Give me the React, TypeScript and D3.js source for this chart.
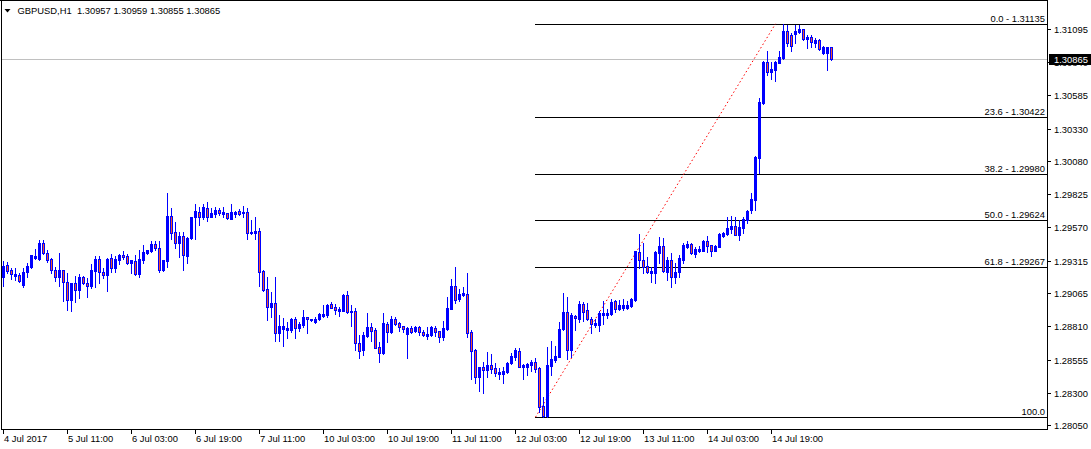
import React from "react";
import * as d3 from "d3";

const symbolTitle = "GBPUSD,H1  1.30957 1.30959 1.30855 1.30865";

const opens = [1.29189,1.29279,1.29243,1.29197,1.29202,1.29129,1.29230,1.29269,1.29336,1.29328,1.29453,1.29372,1.29328,1.29243,1.29192,1.29243,1.29152,1.29013,1.29142,1.29090,1.29192,1.29142,1.29121,1.29238,1.29328,1.29225,1.29207,1.29333,1.29261,1.29320,1.29359,1.29351,1.29295,1.29315,1.29212,1.29320,1.29372,1.29392,1.29443,1.29410,1.29243,1.29315,1.29658,1.29533,1.29449,1.29505,1.29353,1.29487,1.29648,1.29686,1.29648,1.29717,1.29653,1.29673,1.29704,1.29673,1.29683,1.29635,1.29676,1.29694,1.29681,1.29689,1.29526,1.29530,1.29543,1.29238,1.29098,1.28962,1.28988,1.28761,1.28792,1.28782,1.28782,1.28865,1.28800,1.28818,1.28882,1.28865,1.28846,1.28869,1.28890,1.28898,1.28980,1.28959,1.28931,1.28931,1.29052,1.28921,1.28928,1.28681,1.28629,1.28736,1.28808,1.28782,1.28655,1.28604,1.28828,1.28767,1.28865,1.28834,1.28813,1.28751,1.28795,1.28777,1.28803,1.28764,1.28738,1.28741,1.28797,1.28774,1.28731,1.28792,1.28946,1.29121,1.29018,1.29054,1.29059,1.28764,1.28629,1.28424,1.28496,1.28475,1.28514,1.28488,1.28447,1.28447,1.28462,1.28527,1.28578,1.28621,1.28496,1.28496,1.28514,1.28537,1.28488,1.28198,1.28118,1.28506,1.28552,1.28578,1.28788,1.28923,1.28629,1.28890,1.28865,1.28982,1.28936,1.28865,1.28821,1.28821,1.28898,1.28898,1.28905,1.29005,1.28944,1.28954,1.28954,1.28967,1.29013,1.29384,1.29320,1.29274,1.29222,1.29222,1.29376,1.29428,1.29230,1.29320,1.29192,1.29230,1.29320,1.29423,1.29443,1.29366,1.29392,1.29392,1.29469,1.29433,1.29392,1.29423,1.29505,1.29520,1.29561,1.29582,1.29513,1.29564,1.29628,1.29704,1.29781,1.30102,1.30524,1.30844,1.30767,1.30780,1.30836,1.30870,1.31082,1.31049,1.31057,1.31074,1.31093,1.31016,1.31031,1.30990,1.31011,1.30908,1.30908,1.30957];

const highs = [1.29312,1.29302,1.29259,1.29256,1.29218,1.29256,1.29295,1.29362,1.29405,1.29474,1.29474,1.29397,1.29333,1.29264,1.29372,1.29243,1.29218,1.29142,1.29197,1.29210,1.29197,1.29179,1.29289,1.29351,1.29351,1.29256,1.29333,1.29366,1.29351,1.29366,1.29389,1.29366,1.29320,1.29359,1.29397,1.29436,1.29397,1.29469,1.29466,1.29466,1.29324,1.29837,1.29717,1.29615,1.29533,1.29538,1.29495,1.29653,1.29750,1.29730,1.29750,1.29763,1.29717,1.29725,1.29717,1.29725,1.29683,1.29750,1.29699,1.29710,1.29735,1.29717,1.29628,1.29648,1.29569,1.29243,1.29192,1.29077,1.29192,1.28898,1.28872,1.28846,1.28872,1.28885,1.28846,1.28936,1.28885,1.28869,1.28885,1.28915,1.28972,1.28982,1.29000,1.28982,1.28957,1.29057,1.29082,1.28975,1.28949,1.28744,1.28769,1.28911,1.28834,1.28795,1.28693,1.28911,1.28846,1.28890,1.28880,1.28846,1.28813,1.28803,1.28813,1.28813,1.28813,1.28782,1.28808,1.28813,1.28815,1.28774,1.28851,1.29039,1.29177,1.29264,1.29095,1.29111,1.29220,1.28782,1.28634,1.28501,1.28539,1.28616,1.28598,1.28531,1.28488,1.28496,1.28539,1.28604,1.28642,1.28642,1.28521,1.28531,1.28552,1.28570,1.28501,1.28270,1.28655,1.28701,1.28660,1.28846,1.29069,1.29039,1.28911,1.28898,1.29008,1.29000,1.28992,1.28885,1.28865,1.28931,1.29008,1.28941,1.29018,1.29013,1.29013,1.29018,1.29008,1.29026,1.29393,1.29520,1.29449,1.29346,1.29269,1.29386,1.29500,1.29487,1.29346,1.29372,1.29295,1.29359,1.29453,1.29469,1.29449,1.29423,1.29428,1.29472,1.29505,1.29436,1.29433,1.29524,1.29538,1.29653,1.29658,1.29648,1.29628,1.29648,1.29703,1.29837,1.30118,1.30563,1.30848,1.30928,1.30844,1.30848,1.30928,1.31135,1.31126,1.31062,1.31126,1.31126,1.31095,1.31049,1.31049,1.31024,1.31015,1.30965,1.30957,1.30959];

const lows = [1.29121,1.29218,1.29172,1.29167,1.29154,1.29116,1.29192,1.29256,1.29330,1.29320,1.29366,1.29307,1.29222,1.29162,1.29121,1.29008,1.28936,1.28931,1.29000,1.29026,1.29136,1.29034,1.29103,1.29111,1.29142,1.29184,1.29085,1.29230,1.29230,1.29289,1.29330,1.29287,1.29222,1.29205,1.29187,1.29295,1.29366,1.29384,1.29397,1.29228,1.29235,1.29264,1.29480,1.29415,1.29346,1.29243,1.29295,1.29480,1.29480,1.29590,1.29633,1.29623,1.29648,1.29653,1.29666,1.29653,1.29633,1.29635,1.29648,1.29663,1.29653,1.29482,1.29518,1.29480,1.29121,1.29085,1.28859,1.28885,1.28701,1.28701,1.28662,1.28723,1.28769,1.28723,1.28777,1.28808,1.28761,1.28855,1.28838,1.28859,1.28885,1.28885,1.28949,1.28905,1.28890,1.28928,1.28915,1.28813,1.28629,1.28570,1.28591,1.28728,1.28701,1.28642,1.28537,1.28598,1.28693,1.28761,1.28821,1.28777,1.28769,1.28570,1.28757,1.28769,1.28744,1.28736,1.28713,1.28736,1.28736,1.28693,1.28706,1.28786,1.28941,1.28992,1.29008,1.29046,1.28731,1.28406,1.28373,1.28313,1.28300,1.28419,1.28450,1.28429,1.28406,1.28377,1.28454,1.28519,1.28552,1.28496,1.28406,1.28437,1.28470,1.28462,1.28155,1.28113,1.28116,1.28437,1.28539,1.28573,1.28782,1.28557,1.28578,1.28782,1.28846,1.28854,1.28859,1.28761,1.28808,1.28777,1.28828,1.28872,1.28898,1.28923,1.28936,1.28936,1.28944,1.28957,1.29005,1.29256,1.29222,1.29218,1.29154,1.29142,1.29295,1.29230,1.29167,1.29116,1.29142,1.29192,1.29299,1.29410,1.29366,1.29341,1.29384,1.29389,1.29384,1.29351,1.29389,1.29420,1.29500,1.29516,1.29526,1.29509,1.29474,1.29530,1.29607,1.29679,1.29704,1.29986,1.30520,1.30742,1.30709,1.30696,1.30832,1.30862,1.30965,1.30928,1.30990,1.31062,1.31011,1.30947,1.30955,1.30955,1.30934,1.30903,1.30780,1.30855];

const closes = [1.29274,1.29238,1.29210,1.29212,1.29157,1.29228,1.29274,1.29359,1.29351,1.29453,1.29372,1.29320,1.29243,1.29192,1.29243,1.29154,1.29013,1.29142,1.29090,1.29192,1.29142,1.29121,1.29243,1.29328,1.29225,1.29207,1.29328,1.29261,1.29328,1.29359,1.29343,1.29299,1.29320,1.29212,1.29328,1.29384,1.29397,1.29443,1.29410,1.29243,1.29320,1.29658,1.29526,1.29449,1.29505,1.29359,1.29492,1.29648,1.29696,1.29648,1.29725,1.29653,1.29683,1.29704,1.29679,1.29686,1.29640,1.29686,1.29689,1.29673,1.29689,1.29530,1.29538,1.29543,1.29230,1.29090,1.28962,1.28988,1.28757,1.28813,1.28813,1.28797,1.28865,1.28800,1.28828,1.28885,1.28865,1.28862,1.28865,1.28905,1.28905,1.28975,1.28954,1.28938,1.28946,1.29052,1.28921,1.28928,1.28681,1.28624,1.28744,1.28808,1.28777,1.28647,1.28608,1.28834,1.28769,1.28869,1.28828,1.28808,1.28788,1.28795,1.28769,1.28803,1.28769,1.28746,1.28751,1.28803,1.28769,1.28731,1.28797,1.28951,1.29121,1.29013,1.29059,1.29069,1.28761,1.28624,1.28424,1.28496,1.28475,1.28514,1.28483,1.28454,1.28462,1.28470,1.28531,1.28583,1.28629,1.28501,1.28514,1.28521,1.28539,1.28485,1.28193,1.28118,1.28514,1.28557,1.28583,1.28790,1.28923,1.28629,1.28898,1.28872,1.28982,1.28923,1.28865,1.28828,1.28838,1.28915,1.28915,1.28915,1.29000,1.28944,1.28975,1.28975,1.28975,1.29018,1.29389,1.29323,1.29269,1.29230,1.29238,1.29382,1.29428,1.29238,1.29320,1.29192,1.29230,1.29333,1.29436,1.29443,1.29376,1.29407,1.29407,1.29469,1.29428,1.29392,1.29431,1.29520,1.29530,1.29569,1.29582,1.29513,1.29577,1.29633,1.29699,1.29787,1.30114,1.30537,1.30844,1.30767,1.30788,1.30844,1.30878,1.31082,1.30990,1.30965,1.31082,1.31097,1.31016,1.31036,1.30993,1.31011,1.30939,1.30955,1.30955,1.30865];

const timeLabels = ["4 Jul 2017","5 Jul 11:00","6 Jul 03:00","6 Jul 19:00","7 Jul 11:00","10 Jul 03:00","10 Jul 19:00","11 Jul 11:00","12 Jul 03:00","12 Jul 19:00","13 Jul 11:00","14 Jul 03:00","14 Jul 19:00"];
const barsPerTimeLabel = 16;

const priceTicks = [1.31095,1.30840,1.30585,1.30330,1.30080,1.29825,1.29570,1.29315,1.29065,1.28810,1.28555,1.28300,1.28050];

const fibLevels = [0.0, 23.6, 38.2, 50.0, 61.8, 100.0];
const fibPrices = [1.31135, 1.30422, 1.29980, 1.29624, 1.29267, 1.28113];
const fibAnchorLowBar = 133;
const fibAnchorHighBar = 193;

const currentPrice = 1.30865;

const W = 1091;
const H = 449;
const FONT = "'Liberation Sans', Arial, sans-serif";
const BLUE = "#0000FF";
const BEAR = "#F2542D";

export default function App() {
  const plotLeft = 1;
  const plotRight = 1047;
  const plotTop = 0;
  const plotBottom = 429;

  const n = opens.length;
  const x = d3.scaleLinear().domain([0, n - 1]).range([3.5, 3.5 + 4 * (n - 1)]);
  const y = d3.scaleLinear().domain([1.28014, 1.31318]).range([430, 0]);

  const candles = d3.range(n).map((i) => {
    const o = opens[i], c = closes[i], h = highs[i], l = lows[i];
    const left = Math.round(x(i) - 1.5);
    const yTop = Math.round(y(Math.max(o, c)));
    const yBot = Math.round(y(Math.min(o, c)));
    const yH = Math.round(y(h));
    const yL = Math.round(y(l));
    const bear = c < o;
    return (
      <g key={i}>
        <rect x={left + 1} y={yH} width={1} height={Math.max(1, yL - yH + 1)} fill={BLUE} />
        <rect x={left} y={yTop} width={3} height={Math.max(1, yBot - yTop + 1)} fill={BLUE} />
        {bear && yBot - yTop - 1 > 0 ? (
          <rect x={left + 1} y={yTop + 1} width={1} height={yBot - yTop - 1} fill={BEAR} />
        ) : null}
      </g>
    );
  });

  const fibStartX = Math.round(x(fibAnchorLowBar));
  const lowY = y(fibPrices[fibPrices.length - 1]);
  const highY = y(fibPrices[0]);

  const curY = Math.round(y(currentPrice)) + 0.5;

  return (
    <svg width={W} height={H} style={{ position: "absolute", left: 0, top: 0, background: "#fff" }} fontFamily={FONT}>
      <rect x={0} y={0} width={W} height={H} fill="#fff" />
      {/* current price line */}
      <line x1={plotLeft} x2={plotRight} y1={curY} y2={curY} stroke="#C0C0C0" strokeWidth={1} />

      {/* fibonacci levels */}
      {fibLevels.map((lv, k) => {
        const yy = Math.round(y(fibPrices[k])) + 0.5;
        const label = lv === 100 ? lv.toFixed(1) : `${lv.toFixed(1)} - ${fibPrices[k].toFixed(5)}`;
        return (
          <g key={"fib" + k}>
            <line x1={fibStartX} x2={plotRight} y1={yy} y2={yy} stroke="#000" strokeWidth={1} />
            <text x={plotRight - 2} y={yy - 3} textAnchor="end" fontSize={9.4} fill="#000">{label}</text>
          </g>
        );
      })}

      {/* fib trend line */}
      <line x1={x(fibAnchorLowBar)} y1={lowY} x2={x(fibAnchorHighBar)} y2={highY} stroke="#FF0000" strokeWidth={1} strokeDasharray="1.5 2.5" />

      {candles}

      {/* frame */}
      <line x1={0} x2={plotRight + 1} y1={plotTop + 0.5} y2={plotTop + 0.5} stroke="#000" />
      <line x1={plotLeft + 0.5} x2={plotLeft + 0.5} y1={0} y2={plotBottom + 1} stroke="#000" />
      <line x1={plotRight + 0.5} x2={plotRight + 0.5} y1={0} y2={plotBottom + 1} stroke="#000" />
      <line x1={plotLeft} x2={plotRight + 1} y1={plotBottom + 0.5} y2={plotBottom + 0.5} stroke="#000" />

      {/* price axis */}
      {priceTicks.map((p, k) => {
        const yy = Math.round(y(p)) + 0.5;
        return (
          <g key={"pt" + k}>
            <line x1={plotRight + 1} x2={plotRight + 4} y1={yy} y2={yy} stroke="#000" />
            <text x={1054} y={yy + 3.5} fontSize={9.4} fill="#000">{p.toFixed(5)}</text>
          </g>
        );
      })}

      {/* current price label */}
      <rect x={1049} y={curY - 5.5} width={42} height={11} fill="#000" />
      <text x={1054} y={curY + 3.5} fontSize={9.4} fill="#fff">{currentPrice.toFixed(5)}</text>

      {/* time axis */}
      {timeLabels.map((t, k) => {
        const xx = Math.round(x(k * barsPerTimeLabel)) - 0.5;
        return (
          <g key={"tt" + k}>
            <line x1={xx} x2={xx} y1={plotBottom + 1} y2={plotBottom + 5} stroke="#000" />
            <text x={xx + 0.5} y={442} fontSize={9.4} fill="#000">{t}</text>
          </g>
        );
      })}

      {/* title */}
      <polygon points="4.5,9 10.5,9 7.5,12.5" fill="#000" />
      <text x={17.5} y={14} fontSize={9.4} fill="#000" style={{ whiteSpace: "pre" }}>{symbolTitle}</text>
    </svg>
  );
}
